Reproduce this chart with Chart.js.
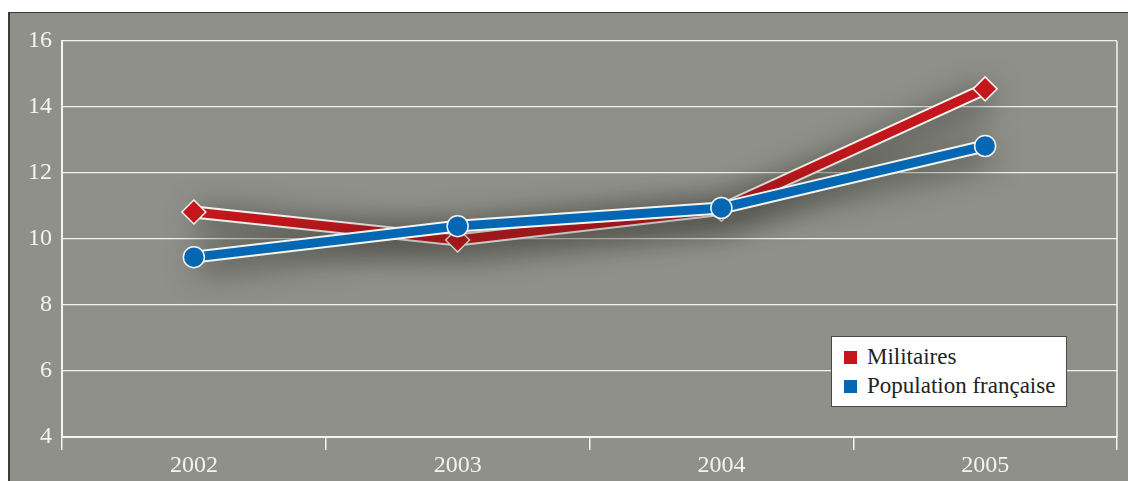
<!DOCTYPE html>
<html>
<head>
<meta charset="utf-8">
<script src="https://cdn.jsdelivr.net/npm/chart.js@4/dist/chart.umd.min.js"></script>
<style>
  html, body { margin: 0; padding: 0; background: #fff; overflow: hidden; width: 1128px; height: 481px; }
  #frame {
    position: absolute; left: 8px; top: 12px; width: 1118px; height: 468px;
    border-left: 2px solid #3a3a36; border-top: 1px solid #3a3a36;
    background: #90908a;
  }
  #wrap { position: absolute; left: 0; top: 0; width: 1118px; height: 468px; }
  #legend {
    position: absolute; left: 821px; top: 323px; width: 234px; height: 69px;
    background: #fff; border: 1px solid #4a4a46;
    font-family: "Liberation Serif", "DejaVu Serif", serif; font-size: 23px; color: #222;
  }
  .item { position: absolute; left: 12px; height: 26px; line-height: 26px; }
  .item span.sw { position: absolute; left: 0; top: 7px; width: 13px; height: 13px; }
  .item span.tx { position: absolute; left: 23px; white-space: nowrap; }
</style>
</head>
<body>
<div id="frame">
  <div id="wrap"><canvas id="chart"></canvas></div>
  <div id="legend"></div>
</div>
<script>
const years = ['2002', '2003', '2004', '2005'];
const militaires = [10.82, 9.97, 10.9, 14.55];
const population = [9.45, 10.39, 10.94, 12.82];
const seriesNames = ['Militaires', 'Population française'];
const seriesColors = ['#c4161c', '#0467b3'];

// ombre portée sous les tracés (halo sombre)
const shadowPlugin = {
    id: 'shadow',
    beforeDatasetDraw(chart, args) {
        const ds = chart.data.datasets[args.index];
        if (!ds.shadow) return;
        chart.ctx.save();
        chart.ctx.shadowColor = 'rgba(30,30,25,0.8)';
        chart.ctx.shadowBlur = 32;
        chart.ctx.shadowOffsetX = 4;
        chart.ctx.shadowOffsetY = 6;
    },
    afterDatasetDraw(chart, args) {
        const ds = chart.data.datasets[args.index];
        if (ds.shadow) chart.ctx.restore();
    }
};

function outline(data, order) {
    return {
        data: data, borderColor: '#f4f4ee', borderWidth: 13, pointRadius: 0,
        tension: 0, order: order, shadow: true
    };
}

const tickFont = { family: "'Liberation Serif', serif", size: 24 };

const ctx = document.getElementById('chart').getContext('2d');
new Chart(ctx, {
    type: 'line',
    data: {
        labels: years,
        datasets: [
            outline(militaires, 4),
            {
                label: seriesNames[0], data: militaires, order: 3,
                borderColor: seriesColors[0], backgroundColor: seriesColors[0],
                borderWidth: 9, tension: 0,
                pointStyle: 'rectRot', pointRadius: 12,
                pointBorderColor: '#f4f4ee', pointBorderWidth: 1.5
            },
            outline(population, 2),
            {
                label: seriesNames[1], data: population, order: 1,
                borderColor: seriesColors[1], backgroundColor: seriesColors[1],
                borderWidth: 9, tension: 0,
                pointStyle: 'circle', pointRadius: 10.5,
                pointBorderColor: '#f4f4ee', pointBorderWidth: 1.5
            }
        ]
    },
    options: {
        responsive: true,
        maintainAspectRatio: false,
        animation: false,
        events: [],
        layout: { autoPadding: false, padding: { left: 0, top: 28, right: 11, bottom: 0 } },
        plugins: { legend: { display: false }, tooltip: { enabled: false } },
        scales: {
            x: {
                offset: true,
                afterFit(scale) { scale.height = 44; },
                grid: {
                    offset: true, drawOnChartArea: false, drawTicks: true,
                    tickLength: 13, color: '#f4f4ee', lineWidth: 1.5
                },
                border: { color: '#f4f4ee', width: 2 },
                ticks: { color: '#f4f4ee', padding: 1, font: tickFont }
            },
            y: {
                min: 4, max: 16,
                afterFit(scale) { scale.width = 52; },
                grid: { color: '#f4f4ee', lineWidth: 1.2, drawTicks: false },
                border: { color: '#f4f4ee', width: 2 },
                ticks: { stepSize: 2, color: '#f4f4ee', padding: 10, font: tickFont }
            }
        }
    },
    plugins: [shadowPlugin, {
        id: 'rightEdge',
        afterDraw(chart) {
            const a = chart.chartArea, c = chart.ctx;
            c.save();
            c.strokeStyle = '#f4f4ee';
            c.lineWidth = 1.5;
            c.beginPath();
            c.moveTo(a.right, a.top);
            c.lineTo(a.right, a.bottom);
            c.stroke();
            c.restore();
        }
    }]
});

// légende HTML
const legend = document.getElementById('legend');
seriesNames.forEach((name, i) => {
    const el = document.createElement('div');
    el.className = 'item';
    el.style.top = (7 + i * 29) + 'px';
    el.innerHTML = '<span class="sw" style="background:' + seriesColors[i] + '"></span><span class="tx">' + name + '</span>';
    legend.appendChild(el);
});
</script>
</body>
</html>
